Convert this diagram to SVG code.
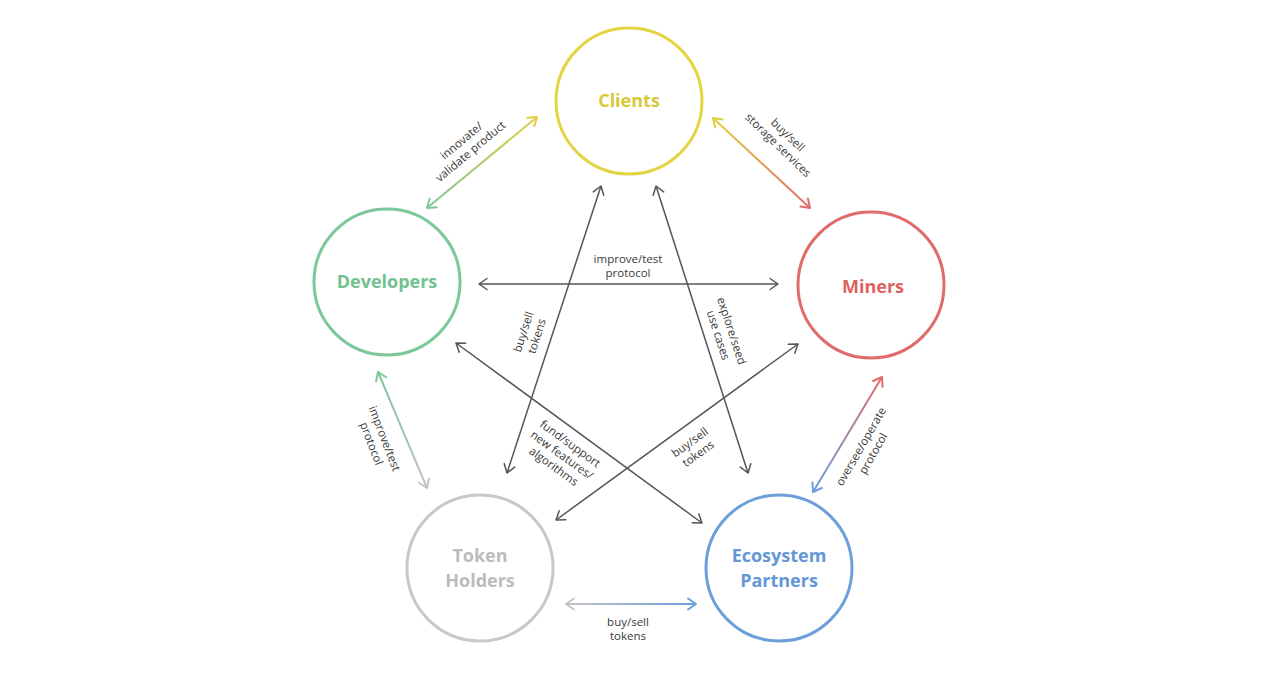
<svg xmlns="http://www.w3.org/2000/svg" width="1280" height="692" viewBox="0 0 1280 692">
<style>
.node{fill:none;stroke-width:3}
.ntext{font-family:"Open Sans","Liberation Sans",sans-serif;font-weight:700;font-size:18px;text-anchor:middle}
.lbl{font-family:"Open Sans","Liberation Sans",sans-serif;font-size:11.5px;fill:#3a3a3a;text-anchor:middle}
.dark{stroke:#555;stroke-width:1.5;fill:none;marker-start:url(#m-dark);marker-end:url(#m-dark)}
.col{stroke-width:2;fill:none}
.mk{fill:none;stroke-linecap:round;stroke-linejoin:round}
</style>
<defs>
<marker id="m-dark" markerUnits="userSpaceOnUse" markerWidth="14" markerHeight="14" refX="10" refY="7" orient="auto-start-reverse"><path class="mk" d="M2,1.5 L10,7 L2,12.5" stroke="#555" stroke-width="1.5"/></marker>
<marker id="m-yellow" markerUnits="userSpaceOnUse" markerWidth="14" markerHeight="14" refX="10" refY="7" orient="auto-start-reverse"><path class="mk" d="M2,1.5 L10,7 L2,12.5" stroke="#e0d040" stroke-width="2"/></marker>
<marker id="m-green" markerUnits="userSpaceOnUse" markerWidth="14" markerHeight="14" refX="10" refY="7" orient="auto-start-reverse"><path class="mk" d="M2,1.5 L10,7 L2,12.5" stroke="#7cc89a" stroke-width="2"/></marker>
<marker id="m-red" markerUnits="userSpaceOnUse" markerWidth="14" markerHeight="14" refX="10" refY="7" orient="auto-start-reverse"><path class="mk" d="M2,1.5 L10,7 L2,12.5" stroke="#e06b6b" stroke-width="2"/></marker>
<marker id="m-gray" markerUnits="userSpaceOnUse" markerWidth="14" markerHeight="14" refX="10" refY="7" orient="auto-start-reverse"><path class="mk" d="M2,1.5 L10,7 L2,12.5" stroke="#c4c4c4" stroke-width="2"/></marker>
<marker id="m-blue" markerUnits="userSpaceOnUse" markerWidth="14" markerHeight="14" refX="10" refY="7" orient="auto-start-reverse"><path class="mk" d="M2,1.5 L10,7 L2,12.5" stroke="#6c9fdb" stroke-width="2"/></marker>
<linearGradient id="g1" gradientUnits="userSpaceOnUse" x1="427" y1="208" x2="537" y2="117"><stop offset="0" stop-color="#7cc89a"/><stop offset="1" stop-color="#e0d040"/></linearGradient>
<linearGradient id="g2" gradientUnits="userSpaceOnUse" x1="713" y1="118" x2="810" y2="208"><stop offset="0" stop-color="#e0d040"/><stop offset="1" stop-color="#e06b6b"/></linearGradient>
<linearGradient id="g3" gradientUnits="userSpaceOnUse" x1="378" y1="372" x2="427" y2="488"><stop offset="0" stop-color="#7cc89a"/><stop offset="1" stop-color="#c4c4c4"/></linearGradient>
<linearGradient id="g4" gradientUnits="userSpaceOnUse" x1="882" y1="377" x2="813" y2="492"><stop offset="0" stop-color="#e06b6b"/><stop offset="1" stop-color="#6c9fdb"/></linearGradient>
<linearGradient id="g5" gradientUnits="userSpaceOnUse" x1="566" y1="604" x2="696" y2="604"><stop offset="0" stop-color="#c4c4c4"/><stop offset="1" stop-color="#6c9fdb"/></linearGradient>
</defs>
<rect width="1280" height="692" fill="#fff"/>
<g id="connectors">
<line class="col" x1="427" y1="208" x2="537" y2="117" stroke="url(#g1)" marker-start="url(#m-green)" marker-end="url(#m-yellow)"/>
<line class="col" x1="713" y1="118" x2="810" y2="208" stroke="url(#g2)" marker-start="url(#m-yellow)" marker-end="url(#m-red)"/>
<line class="col" x1="378" y1="372" x2="427" y2="488" stroke="url(#g3)" marker-start="url(#m-green)" marker-end="url(#m-gray)"/>
<line class="col" x1="882" y1="377" x2="813" y2="492" stroke="url(#g4)" marker-start="url(#m-red)" marker-end="url(#m-blue)"/>
<line class="col" x1="566" y1="604" x2="696" y2="604" stroke="url(#g5)" marker-start="url(#m-gray)" marker-end="url(#m-blue)"/>
<line class="dark" x1="479" y1="284" x2="778" y2="284"/>
<line class="dark" x1="601" y1="186" x2="507" y2="473"/>
<line class="dark" x1="656" y1="186" x2="748" y2="473"/>
<line class="dark" x1="456" y1="343" x2="702" y2="523"/>
<line class="dark" x1="798" y1="344" x2="556" y2="520"/>
<g transform="translate(466,146) rotate(-40)"><text class="lbl" x="0" y="-3">innovate/</text><text class="lbl" x="0" y="11">validate product</text></g>
<g transform="translate(783,140) rotate(44)"><text class="lbl" x="0" y="-3">buy/sell</text><text class="lbl" x="0" y="11">storage services</text></g>
<g transform="translate(378,441) rotate(69)"><text class="lbl" x="0" y="-3">improve/test</text><text class="lbl" x="0" y="11">protocol</text></g>
<g transform="translate(867,450) rotate(-60)"><text class="lbl" x="0" y="-3">oversee/operate</text><text class="lbl" x="0" y="11">protocol</text></g>
<text class="lbl" x="628" y="626">buy/sell</text><text class="lbl" x="628" y="640">tokens</text>
<text class="lbl" x="628" y="263">improve/test</text><text class="lbl" x="628" y="277">protocol</text>
<g transform="translate(530,334) rotate(-72)"><text class="lbl" x="0" y="-3">buy/sell</text><text class="lbl" x="0" y="11">tokens</text></g>
<g transform="translate(725,333) rotate(72)"><text class="lbl" x="0" y="-3">explore/seed</text><text class="lbl" x="0" y="11">use cases</text></g>
<g transform="translate(562,455) rotate(36)"><text class="lbl" x="0" y="-10">fund/support</text><text class="lbl" x="0" y="4">new features/</text><text class="lbl" x="0" y="18">algorithms</text></g>
<g transform="translate(694,448) rotate(-36)"><text class="lbl" x="0" y="-3">buy/sell</text><text class="lbl" x="0" y="11">tokens</text></g>
</g>
<g id="clients"><circle class="node" cx="629" cy="101" r="73" stroke="#e3d442"/><text class="ntext" x="629" y="107" fill="#d8c93a">Clients</text></g>
<g id="developers"><circle class="node" cx="387" cy="282" r="73" stroke="#7cc89a"/><text class="ntext" x="387" y="288" fill="#72c190">Developers</text></g>
<g id="miners"><circle class="node" cx="871" cy="285" r="73" stroke="#e06b6b"/><text class="ntext" x="873" y="293" fill="#dd6363">Miners</text></g>
<g id="token-holders"><circle class="node" cx="480" cy="568" r="73" stroke="#c8c8c8"/><text class="ntext" x="480" y="562" fill="#bcbcbc">Token</text><text class="ntext" x="480" y="587" fill="#bcbcbc">Holders</text></g>
<g id="ecosystem-partners"><circle class="node" cx="779" cy="568" r="73" stroke="#6c9fdb"/><text class="ntext" x="779" y="562" fill="#6497d6">Ecosystem</text><text class="ntext" x="779" y="587" fill="#6497d6">Partners</text></g>
</svg>
